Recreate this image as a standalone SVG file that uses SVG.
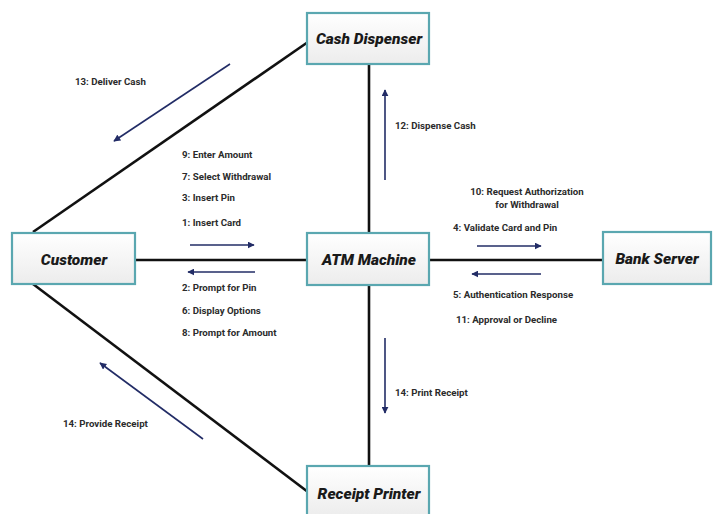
<svg xmlns="http://www.w3.org/2000/svg" width="713" height="514" viewBox="0 0 713 514">
<defs>
<linearGradient id="g" x1="0" y1="0" x2="0" y2="1">
<stop offset="0" stop-color="#ffffff"/>
<stop offset="1" stop-color="#ececec"/>
</linearGradient>
<marker id="ah" viewBox="0 0 10 10" refX="9" refY="5" markerWidth="7" markerHeight="7" markerUnits="userSpaceOnUse" orient="auto">
<path d="M0,0 L10,5 L0,10 z" fill="#222c66"/>
</marker>
<style>
.box{fill:url(#g);stroke:#5aa7b0;stroke-width:2.2}
.nl{font-family:Roboto,"Liberation Sans",sans-serif;font-weight:900;font-style:italic;font-size:15.5px;fill:#1a1a1a;text-anchor:middle}
.line{stroke:#111;stroke-width:2.6;fill:none}
.arr{stroke:#222c66;stroke-width:1.6;fill:none;marker-end:url(#ah)}
.lb{font-family:Roboto,"Liberation Sans",sans-serif;font-weight:bold;font-size:9.7px;fill:#2b2b2b}
</style>
</defs>
<rect width="713" height="514" fill="#fff"/>
<g id="connectors">
<line class="line" x1="33" y1="232" x2="308" y2="42"/>
<line class="line" x1="33" y1="284" x2="308" y2="492"/>
<line class="line" x1="135" y1="260" x2="307" y2="260"/>
<line class="line" x1="429" y1="260" x2="603" y2="260"/>
<line class="line" x1="369" y1="64" x2="369" y2="233"/>
<line class="line" x1="369" y1="285" x2="369" y2="466"/>
<line class="arr" x1="190" y1="245" x2="254" y2="245"/>
<line class="arr" x1="255" y1="272" x2="188" y2="272"/>
<line class="arr" x1="477" y1="246" x2="541" y2="246"/>
<line class="arr" x1="541" y1="274" x2="472" y2="274"/>
<line class="arr" x1="230" y1="64" x2="114" y2="141"/>
<line class="arr" x1="203" y1="439" x2="100" y2="363"/>
<line class="arr" x1="385" y1="180" x2="385" y2="90"/>
<line class="arr" x1="385" y1="338" x2="385" y2="413"/>
<text class="lb" x="75" y="85">13: Deliver Cash</text>
<text class="lb" x="63" y="427">14: Provide Receipt</text>
<text class="lb" x="395" y="129">12: Dispense Cash</text>
<text class="lb" x="395" y="396">14: Print Receipt</text>
<text class="lb" x="182" y="158">9: Enter Amount</text>
<text class="lb" x="182" y="180">7: Select Withdrawal</text>
<text class="lb" x="182" y="201">3: Insert Pin</text>
<text class="lb" x="182" y="226">1: Insert Card</text>
<text class="lb" x="182" y="291">2: Prompt for Pin</text>
<text class="lb" x="182" y="314">6: Display Options</text>
<text class="lb" x="182" y="336">8: Prompt for Amount</text>
<text class="lb" x="527" y="195" text-anchor="middle">10: Request Authorization</text>
<text class="lb" x="527" y="208" text-anchor="middle">for Withdrawal</text>
<text class="lb" x="453" y="231">4: Validate Card and Pin</text>
<text class="lb" x="453" y="298">5: Authentication Response</text>
<text class="lb" x="456" y="323">11: Approval or Decline</text>
</g>
<g id="cash-dispenser">
<rect class="box" x="307" y="13" width="122" height="51"/>
<text class="nl" x="369" y="44">Cash Dispenser</text>
</g>
<g id="customer">
<rect class="box" x="12" y="233" width="123" height="51"/>
<text class="nl" x="74" y="265">Customer</text>
</g>
<g id="atm-machine">
<rect class="box" x="307" y="233" width="122" height="52"/>
<text class="nl" x="369" y="265">ATM Machine</text>
</g>
<g id="bank-server">
<rect class="box" x="603" y="232" width="108" height="52"/>
<text class="nl" x="657" y="264">Bank Server</text>
</g>
<g id="receipt-printer">
<rect class="box" x="307" y="466" width="122" height="52"/>
<text class="nl" x="369" y="499">Receipt Printer</text>
</g>
</svg>
